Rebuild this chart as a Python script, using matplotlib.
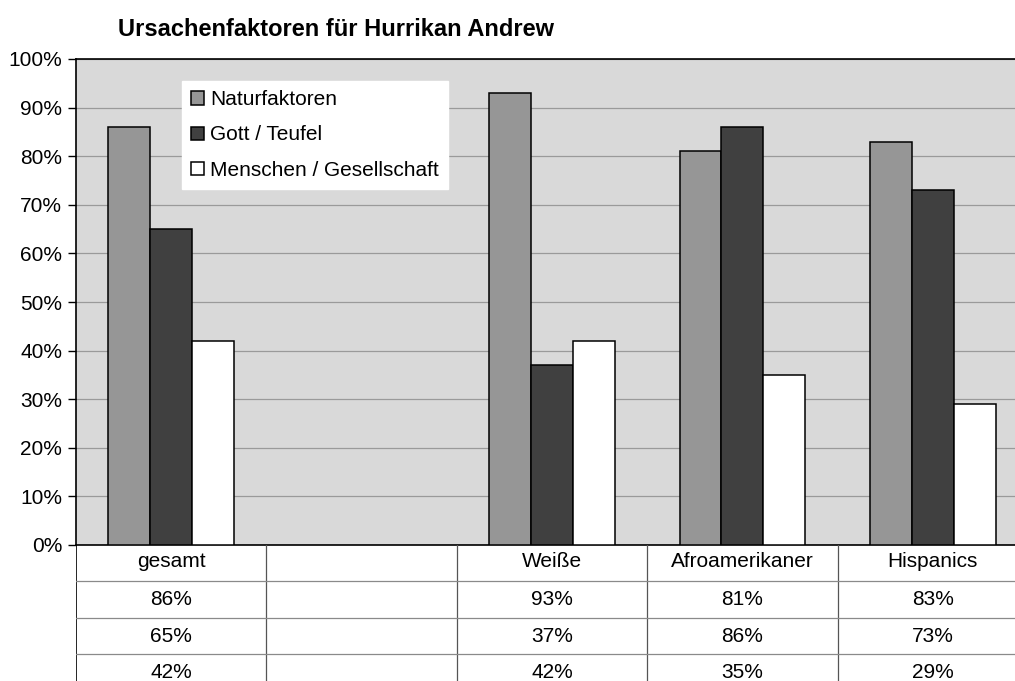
import matplotlib.pyplot as plt
import numpy as np

plt.rcParams['font.family'] = ['Liberation Sans', 'DejaVu Sans']

categories = ['gesamt', '', 'Weiße', 'Afroamerikaner', 'Hispanics']
natur = [86, np.nan, 93, 81, 83]
gott = [65, np.nan, 37, 86, 73]
menschen = [42, np.nan, 42, 35, 29]
series_names = ['Naturfaktoren', 'Gott / Teufel', 'Menschen / Gesellschaft']
series_colors = ['#969696', '#404040', '#ffffff']

W, H = 1015, 681
fig = plt.figure(figsize=(W / 100, H / 100), dpi=100)

# plot area in pixels: left 75, right 1027 (past the image edge), top 59, bottom 545
left, right, top, bottom = 76, 1028, 59, 545
ax = fig.add_axes([left / W, 1 - bottom / H, (right - left) / W, (bottom - top) / H])
ax.set_facecolor('#d9d9d9')

x = np.arange(len(categories))
bw = 0.22
series = [natur, gott, menschen]
for i, (vals, name, col) in enumerate(zip(series, series_names, series_colors)):
    ax.bar(x + (i - 1) * bw, vals, bw, color=col, edgecolor='black', linewidth=1.1,
           label=name, zorder=3)

ax.set_xlim(-0.5, len(categories) - 0.5)
ax.set_ylim(0, 100)
ax.set_yticks(np.arange(0, 101, 10))
ax.set_yticklabels([f'{v}%' for v in range(0, 101, 10)], fontsize=15)
ax.set_xticks([])
ax.yaxis.grid(True, color='#9a9a9a', linewidth=0.9, zorder=0)
ax.set_axisbelow(True)
ax.tick_params(axis='y', length=6, width=1, direction='out', pad=4)
for s in ['left', 'top']:
    ax.spines[s].set_color('black')
    ax.spines[s].set_linewidth(1.2)
ax.spines['bottom'].set_linewidth(1.2)
ax.spines['right'].set_visible(False)

leg = ax.legend(loc='upper left', bbox_to_anchor=(0.111, 0.955), fontsize=15,
                handlelength=0.6, handleheight=0.6, handletextpad=0.3,
                labelspacing=0.78, borderpad=0.45, borderaxespad=0,
                fancybox=False, framealpha=1, facecolor='white', edgecolor='white')

fig.text(118 / W, 1 - 30 / H, 'Ursachenfaktoren für Hurrikan Andrew', fontsize=17,
         fontweight='bold', va='center', ha='left')

# data table below the plot
row_h = 36.5
n_rows = 4
tab = fig.add_axes([left / W, 1 - (bottom + n_rows * row_h) / H,
                    (right - left) / W, n_rows * row_h / H])
tab.set_xlim(ax.get_xlim())
tab.set_ylim(n_rows, 0)
tab.axis('off')
tab.axvline(-0.5, color='black', linewidth=1.2)
for b in x[:-1] + 0.5:
    tab.axvline(b, color='#555555', linewidth=0.9)
for r in range(1, n_rows):
    tab.axhline(r, color='#8a8a8a', linewidth=0.9)
for j, cat in enumerate(categories):
    tab.text(j, 0.45, cat, ha='center', va='center', fontsize=15)
    for r, vals in enumerate(series, start=1):
        if not np.isnan(vals[j]):
            tab.text(j, r + 0.5, f'{vals[j]:.0f}%', ha='center', va='center', fontsize=15)

fig.savefig('out.png', dpi=100)
